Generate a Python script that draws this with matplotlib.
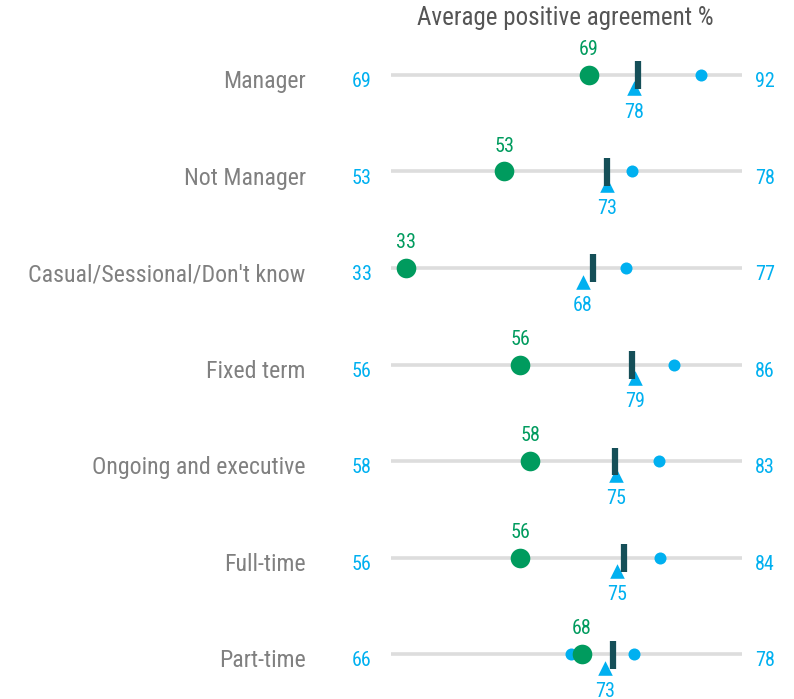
import matplotlib
matplotlib.use("Agg")
import matplotlib.pyplot as plt
import numpy as np

# ============================================================
# Data
# ============================================================
categories = [
    "Manager",
    "Not Manager",
    "Casual/Sessional/Don't know",
    "Fixed term",
    "Ongoing and executive",
    "Full-time",
    "Part-time",
]
group_score = [69.4, 52.6, 33.0, 55.8, 57.7, 55.8, 68.0]      # green dot
comparator = [78.4, 73.0, 68.2, 78.6, 74.8, 75.1, 72.6]       # blue triangle
benchmark = [79.2, 73.0, 70.3, 78.1, 74.6, 76.5, 74.2]        # dark bar
range_min = [69.4, 52.6, 33.0, 55.8, 57.7, 55.8, 65.9]        # blue dot (low)
range_max = [91.7, 78.1, 76.8, 86.4, 83.4, 83.7, 78.4]        # blue dot (high)
AXIS_MIN, AXIS_MAX = 30, 100
TITLE = "Average positive agreement %"

# ============================================================
# Style
# ============================================================
plt.rcParams["font.family"] = ["Roboto Condensed", "DejaVu Sans"]
GREEN = "#009b5e"
BLUE = "#00b0f0"
DARK = "#154f58"
GREY_LINE = "#dddddd"
GREY_TEXT = "#808080"

fig = plt.figure(figsize=(7.94, 6.99), dpi=100)
ax = fig.add_axes([0, 0, 1, 1])
ax.set_xlim(-47.9, 110.3)
ax.set_ylim(6.466, -0.777)
ax.axis("off")

y = np.arange(len(categories))

for i, cat in enumerate(categories):
    ax.plot([AXIS_MIN, AXIS_MAX], [i, i], color=GREY_LINE, lw=2.6,
            solid_capstyle="butt", zorder=1)
    ax.text(13.0, i + 0.07, cat, ha="right", va="center", fontsize=17.2,
            color=GREY_TEXT)
    ax.text(24.2, i + 0.07, f"{range_min[i]:.0f}", ha="center", va="center",
            fontsize=14.5, color=BLUE)
    ax.text(102.5, i + 0.07, f"{range_max[i]:.0f}", ha="left", va="center",
            fontsize=14.5, color=BLUE)

# range dots
ax.scatter(range_min, y, s=75, color=BLUE, zorder=2, linewidths=0)
ax.scatter(range_max, y, s=75, color=BLUE, zorder=2, linewidths=0)

# comparator triangles (sit just below the line)
ax.scatter(comparator, y + 0.14, s=110, marker="^", color=BLUE, zorder=3,
           linewidths=0)
for i, v in enumerate(comparator):
    ax.text(v, i + 0.385, f"{v:.0f}", ha="center", va="center",
            fontsize=14.5, color=BLUE)

# benchmark bars
for i, v in enumerate(benchmark):
    ax.plot([v, v], [i - 0.14, i + 0.15], color=DARK, lw=4.5,
            solid_capstyle="butt", zorder=4)

# group score
ax.scatter(group_score, y, s=200, color=GREEN, zorder=5, linewidths=0)
for i, v in enumerate(group_score):
    ax.text(v, i - 0.26, f"{v:.0f}", ha="center", va="center",
            fontsize=14.5, color=GREEN)

ax.text(64.7, -0.59, TITLE, ha="center", va="center", fontsize=18,
        color="#555555")

fig.savefig("out.png", dpi=100)
